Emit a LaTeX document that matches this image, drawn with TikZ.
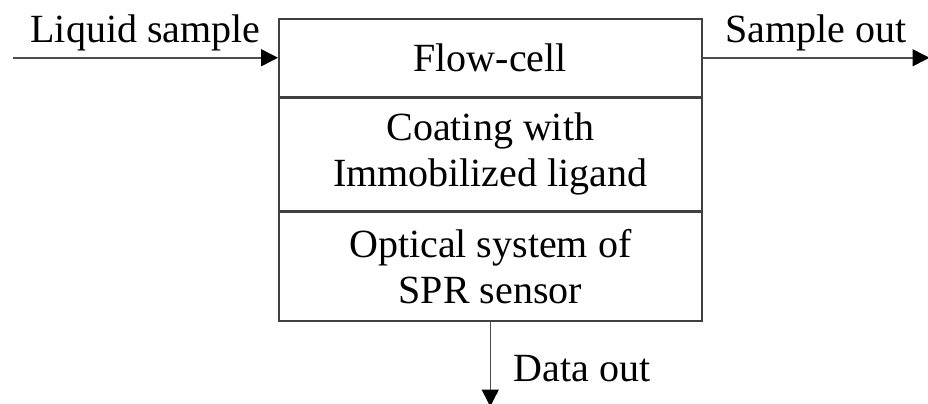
\documentclass[tikz,border=0pt]{standalone}
\usepackage{fontspec}
\setmainfont{Liberation Serif}
\usetikzlibrary{positioning,arrows.meta}

\begin{document}
\begin{tikzpicture}[x=0.5pt,y=-0.5pt,
  every node/.style={font=\fontsize{20}{23}\selectfont},
  layer/.style={draw=black!75, line width=0.75pt, minimum width=211.5pt,
    align=center, inner sep=0pt},
  flow/.style={draw=black!70, line width=0.75pt,
    -{Triangle[length=8.5pt,width=8.5pt,color=black]}},
  tag/.style={inner sep=3pt}]
  \useasboundingbox (0,0) rectangle (928,403);
  % stacked sensor layers
  \node[layer, minimum height=39pt, anchor=north west] (cell) at (278,18) {Flow-cell};
  \node[layer, minimum height=56pt, below=0pt of cell] (coat) {Coating with\\Immobilized ligand};
  \node[layer, minimum height=54.5pt, below=0pt of coat] (optic) {Optical system of\\SPR sensor};
  % inputs and outputs
  \coordinate[left=132.5pt of cell.west] (in);
  \coordinate[right=113.5pt of cell.east] (out);
  \coordinate[below=42.5pt of optic.south] (data);
  \draw[flow] (in) -- (cell.west) node[midway, above, tag] {Liquid sample};
  \draw[flow] (cell.east) -- (out) node[midway, above, tag] {Sample out};
  \draw[flow] (optic.south) -- (data) node[pos=0.55, right=8pt] {Data out};
\end{tikzpicture}
\end{document}
